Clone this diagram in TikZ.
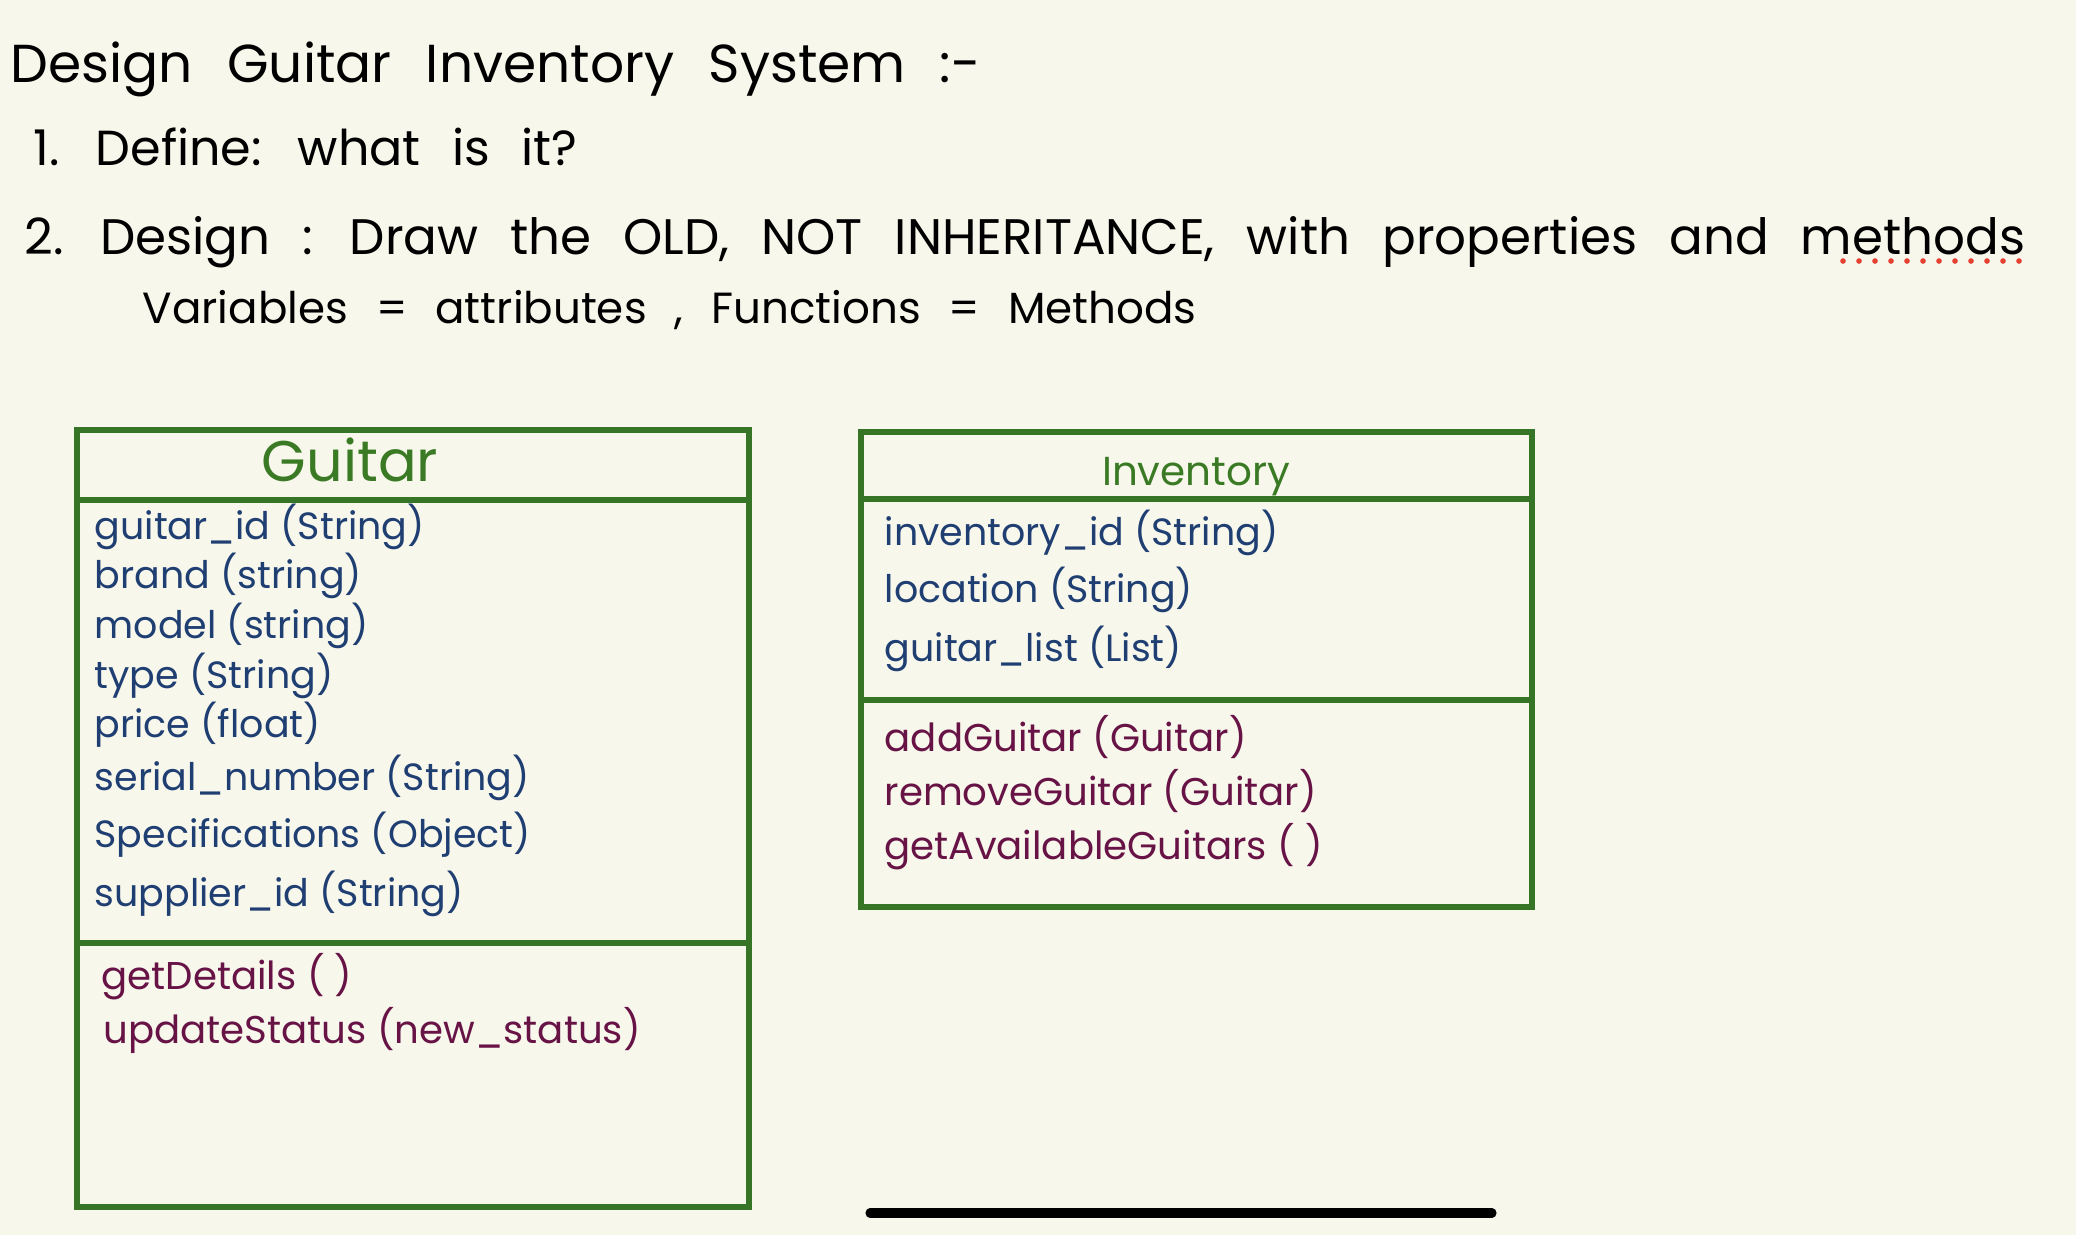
\documentclass[tikz,border=0pt]{standalone}
\usepackage{fontspec}
\setmainfont{Poppins}
\newfontfamily\hand[WordSpace=2.4]{Poppins}
\definecolor{paper}{HTML}{F7F7EC}
\definecolor{boxgreen}{HTML}{377526}
\definecolor{titlegreen}{HTML}{3B7A24}
\definecolor{attrblue}{HTML}{1F3E72}
\definecolor{methplum}{HTML}{681346}
\definecolor{dotred}{HTML}{E4402F}
\tikzset{
  heading/.style={anchor=base west, inner sep=0pt, font=\hand\fontsize{#1}{#1}\selectfont},
  classbox/.style={draw=boxgreen, line width=1.7pt},
  classname/.style={anchor=base, inner sep=0pt, text=titlegreen, font=\fontsize{#1}{#1}\selectfont},
  attr/.style={anchor=base west, inner sep=0pt, text=attrblue, font=\fontsize{10.8}{12}\selectfont},
  meth/.style={anchor=base west, inner sep=0pt, text=methplum, font=\fontsize{11}{13}\selectfont}
}

\begin{document}
\begin{tikzpicture}[x=0.01cm,y=-0.01cm]
\fill[paper] (0,0) rectangle (2076,1235);
\useasboundingbox (0,0) rectangle (2076,1235);

\node[heading=15.2] (title) at (10,82) {Design Guitar Inventory System :-};
\node[heading=14] (define) at (33,165) {1. Define: what is it?};
\node[heading=14.2] (design) at (24,254) {2. Design : Draw the OLD, NOT INHERITANCE, with properties and methods};
\node[heading=12.4] (names) at (142,323) {Variables = attributes , Functions = Methods};
\foreach \i in {0,...,11}
\fill[dotred] (1843+\i*16,261) circle (0.8pt);

\coordinate (G-nw) at (77,430);
\coordinate (G-se) at (749,1207);
\draw[classbox] (G-nw) rectangle (G-se);
\draw[classbox] (77,500) -- (749,500);
\draw[classbox] (77,943) -- (749,943);
\node[classname=16.3] (guitar) at (350,481) {Guitar};
\foreach \y/\t [count=\n] in {539/guitar\_id (String), 588/brand (string), 638/model (string),
  688/type (String), 737/price (float), 790/serial\_number (String),
  847/Specifications (Object), 906/supplier\_id (String)}
\node[attr] (gattr\n) at (94,\y) {\t};
\node[meth] (gmeth1) at (101,989) {getDetails ( )};
\node[meth] (gmeth2) at (103,1043) {updateStatus (new\_status)};

\coordinate (I-nw) at (861,432);
\coordinate (I-se) at (1532,907);
\draw[classbox] (I-nw) rectangle (I-se);
\draw[classbox] (861,499) -- (1532,499);
\draw[classbox] (861,700) -- (1532,700);
\node[classname=11.5] (inventory) at (1196,485) {Inventory};
\foreach \y/\t [count=\n] in {545/inventory\_id (String), 602/location (String), 661/guitar\_list (List)}
\node[attr] (iattr\n) at (884,\y) {\t};
\foreach \y/\t [count=\n] in {751/addGuitar (Guitar), 805/removeGuitar (Guitar), 859/getAvailableGuitars ( )}
\node[meth] (imeth\n) at (884,\y) {\t};

\draw[line width=2.6pt, line cap=round] (870,1213) -- (1492,1213);
\end{tikzpicture}
\end{document}
